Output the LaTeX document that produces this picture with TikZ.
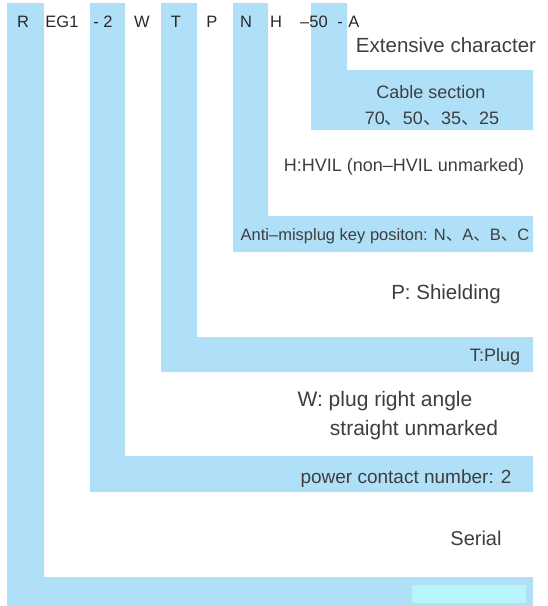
\documentclass[tikz,border=0pt]{standalone}
\usepackage{fontspec}
\setmainfont{Liberation Sans}
\newfontfamily\cjk{Noto Sans CJK SC}
\usetikzlibrary{positioning}
\definecolor{bandblue}{RGB}{176,224,248}
\definecolor{paleaqua}{RGB}{184,245,250}
\definecolor{inkgray}{RGB}{62,62,62}
\definecolor{inkdark}{RGB}{40,40,40}
\newcommand{\dun}{{\cjk 、}}
\newcommand{\fs}[1]{\fontsize{#1}{#1}\selectfont}

\begin{document}
\begin{tikzpicture}[x=1pt,y=-1pt, every node/.style={text=inkgray,inner sep=0pt,anchor=base}, band/.style={fill=bandblue}, code/.style={font=\fs{16.5},text=inkdark}, note/.style={font=\fs{19}}]
\useasboundingbox (0,0) rectangle (548,606);
% bands, one per code field
\fill[band] (7,3) -- (44,3) -- (44,577) -- (533,577) -- (533,606) -- (7,606) -- cycle;
\fill[band] (90,3) -- (125,3) -- (125,456) -- (533,456) -- (533,492) -- (90,492) -- cycle;
\fill[band] (161,3) -- (197,3) -- (197,337) -- (533,337) -- (533,372) -- (161,372) -- cycle;
\fill[band] (233,3) -- (268,3) -- (268,216) -- (533,216) -- (533,252) -- (233,252) -- cycle;
\fill[band] (311,3) -- (347,3) -- (347,70) -- (533,70) -- (533,130) -- (311,130) -- cycle;
\fill[paleaqua] (412,585) rectangle (526,603);
% code letters
\node[code] (r) at (23,27) {R};
\node[code] (eg) at (62,27) {EG1};
\node[code] (two) at (103,27) {- 2};
\node[code] (w) at (142,27) {W};
\node[code] (t) at (176,27) {T};
\node[code] (p) at (212,27) {P};
\node[code] (n) at (246,27) {N};
\node[code] (h) at (276,27) {H};
\node[code] (fifty) at (314,27) {--50};
\node[code] (dash) at (340,27) {-};
\node[code] (a) at (354,27) {A};
% explanations
\node[note,font=\fs{20.5}] (ext) at (446,52) {Extensive character};
\node[note,font=\fs{18}] (cable) at (431,98) {Cable section};
\node[note,font=\fs{18}] (sizes) at (432,124) {70\dun 50\dun 35\dun 25};
\node[note,font=\fs{18}] (hvil) at (404,171.5) {H:HVIL (non--HVIL unmarked)};
\node[note,font=\fs{16.5}] (key) at (385,240) {Anti--misplug key positon: N\dun A\dun B\dun C};
\node[note,font=\fs{20.5}] (shield) at (446,299) {P: Shielding};
\node[note,font=\fs{18}] (plug) at (495,361.5) {T:Plug};
\node[note,font=\fs{21}] (angle) at (385,406.5) {W: plug right angle};
\node[note,font=\fs{21}] (straight) at (414,435.5) {straight unmarked};
\node[note] (power) at (406,483) {power contact number: 2};
\node[note,font=\fs{20}] (serial) at (476,545) {Serial};
\end{tikzpicture}
\end{document}
